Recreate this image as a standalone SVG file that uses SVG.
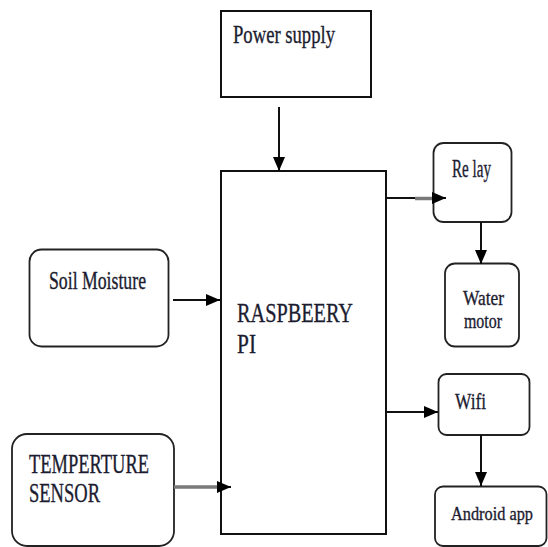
<svg xmlns="http://www.w3.org/2000/svg" width="548" height="547" viewBox="0 0 548 547">
<style>
.box{fill:#fff;stroke:#111;stroke-width:2}
.rbox{fill:#fff;stroke:#222;stroke-width:1.8}
.lbl{font-family:"Liberation Serif","Times New Roman",serif;fill:#1c1c30;stroke:#1c1c30;stroke-width:0.35}
.ln{stroke:#111;stroke-width:2;fill:none}
.gln{stroke:#7a7a7a;stroke-width:3.5;fill:none}
</style>
<defs>
<marker id="ah" markerUnits="userSpaceOnUse" markerWidth="15" markerHeight="12" refX="14" refY="6" orient="auto">
<path d="M0,0 L14,6 L0,12 z" fill="#000"/>
</marker>
</defs>
<rect width="548" height="547" fill="#fff"/>
<g id="power">
<rect class="box" x="221" y="11" width="150" height="86"/>
<text class="lbl" x="233" y="43" font-size="26" textLength="102" lengthAdjust="spacingAndGlyphs">Power supply</text>
</g>
<g id="raspberry">
<rect class="box" x="221" y="171" width="165" height="363"/>
<text class="lbl" x="237" y="322" font-size="28" textLength="116" lengthAdjust="spacingAndGlyphs">RASPBEERY</text>
<text class="lbl" x="237" y="353" font-size="28" textLength="19" lengthAdjust="spacingAndGlyphs">PI</text>
</g>
<g id="soil">
<rect class="rbox" x="29.5" y="249.5" width="139" height="97" rx="12"/>
<text class="lbl" x="49" y="289" font-size="25" textLength="97" lengthAdjust="spacingAndGlyphs">Soil Moisture</text>
</g>
<g id="temperature">
<rect class="rbox" x="12" y="434" width="162" height="112" rx="15"/>
<text class="lbl" x="29" y="473" font-size="27" textLength="120" lengthAdjust="spacingAndGlyphs">TEMPERTURE</text>
<text class="lbl" x="29" y="502" font-size="27" textLength="71" lengthAdjust="spacingAndGlyphs">SENSOR</text>
</g>
<g id="relay">
<rect class="rbox" x="433.5" y="143" width="78" height="79" rx="10"/>
<text class="lbl" x="452" y="177" font-size="25" textLength="39" lengthAdjust="spacingAndGlyphs">Re lay</text>
</g>
<g id="water">
<rect class="rbox" x="445" y="263.5" width="74" height="83" rx="10"/>
<text class="lbl" x="463" y="305" font-size="21" textLength="41" lengthAdjust="spacingAndGlyphs">Water</text>
<text class="lbl" x="464" y="328" font-size="21" textLength="38" lengthAdjust="spacingAndGlyphs">motor</text>
</g>
<g id="wifi">
<rect class="rbox" x="438.5" y="374" width="91" height="61" rx="8"/>
<text class="lbl" x="455" y="409" font-size="24" textLength="31" lengthAdjust="spacingAndGlyphs">Wifi</text>
</g>
<g id="android">
<rect class="rbox" x="435" y="486.5" width="111.5" height="59.5" rx="8"/>
<text class="lbl" x="451" y="520" font-size="19" textLength="82" lengthAdjust="spacingAndGlyphs">Android app</text>
</g>
<g id="connectors">
<line class="ln" x1="279" y1="107" x2="279" y2="171" marker-end="url(#ah)"/>
<line class="ln" x1="173" y1="300" x2="220" y2="300" marker-end="url(#ah)"/>
<line class="gln" x1="174" y1="487" x2="222" y2="487"/>
<line class="ln" x1="218" y1="487" x2="231" y2="487" marker-end="url(#ah)"/>
<line class="ln" x1="386" y1="198" x2="415" y2="198"/>
<line class="gln" x1="415" y1="198.5" x2="436" y2="198.5"/>
<line class="ln" x1="432" y1="198" x2="446" y2="198" marker-end="url(#ah)"/>
<line class="ln" x1="481" y1="222" x2="481" y2="264" marker-end="url(#ah)"/>
<line class="ln" x1="386" y1="412" x2="438" y2="412" marker-end="url(#ah)"/>
<line class="ln" x1="481" y1="435" x2="481" y2="486" marker-end="url(#ah)"/>
</g>
</svg>
